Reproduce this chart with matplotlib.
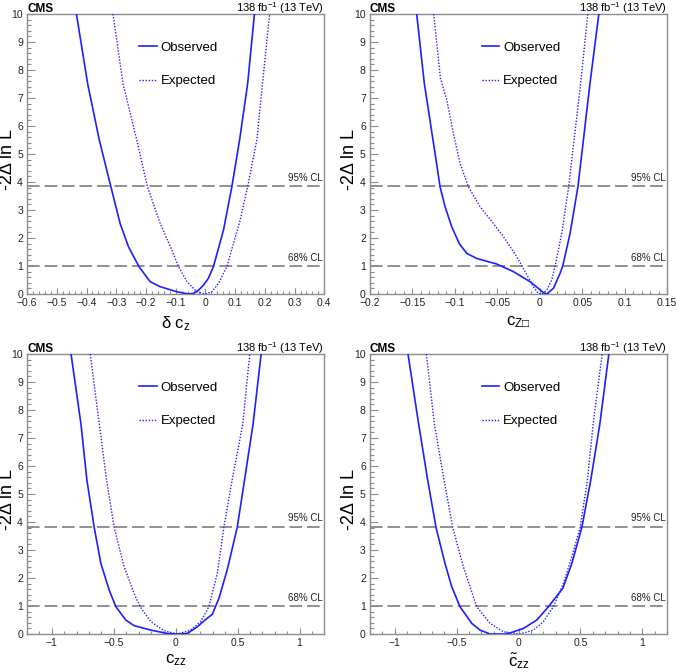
import matplotlib
matplotlib.use("Agg")
import matplotlib.pyplot as plt
from matplotlib.ticker import MultipleLocator, FuncFormatter

plt.rcParams["font.family"] = ["Liberation Sans", "DejaVu Sans"]
plt.rcParams["mathtext.fontset"] = "custom"
plt.rcParams["mathtext.rm"] = "Liberation Sans"
plt.rcParams["mathtext.it"] = "Liberation Sans:italic"
plt.rcParams["mathtext.bf"] = "Liberation Sans:bold"
plt.rcParams["mathtext.fallback"] = "stixsans"

# ----------------------------------------
#  Data
# ----------------------------------------
# delta c_z
dcz_obs_x = [-0.434, -0.396, -0.357, -0.318, -0.287, -0.259, -0.223, -0.186, -0.152, -0.096,
             -0.057, -0.040, -0.023, -0.006, 0.010, 0.027, 0.061, 0.089, 0.115, 0.142, 0.165]
dcz_obs_y = [10.0, 7.5, 5.5, 3.83, 2.52, 1.69, 0.97, 0.44, 0.26, 0.08,
             0.0, 0.02, 0.14, 0.32, 0.56, 0.98, 2.29, 3.83, 5.5, 7.5, 10.0]
dcz_exp_x = [-0.311, -0.277, -0.231, -0.195, -0.152, -0.113, -0.090, -0.062, -0.029, 0.0,
             0.022, 0.044, 0.072, 0.117, 0.142, 0.173, 0.192, 0.216]
dcz_exp_y = [10.0, 7.5, 5.5, 3.83, 2.52, 1.57, 0.97, 0.44, 0.08, 0.0,
             0.08, 0.38, 0.97, 2.64, 3.83, 5.5, 7.5, 10.0]

# c_Z-box
czb_obs_x = [-0.145, -0.136, -0.133, -0.127, -0.121, -0.1175, -0.1116, -0.1037, -0.0947, -0.086,
             -0.0743, -0.0507, -0.0311, -0.0115, -0.0017, 0.0043, 0.0082, 0.016, 0.0239, 0.027,
             0.0357, 0.045, 0.059, 0.0695]
czb_obs_y = [10.0, 7.52, 6.93, 5.74, 4.55, 3.83, 3.12, 2.40, 1.79, 1.45,
             1.27, 1.07, 0.80, 0.44, 0.20, 0.05, 0.0, 0.20, 0.74, 1.0,
             2.17, 3.85, 7.5, 10.0]
czb_exp_x = [-0.125, -0.117, -0.1096, -0.1018, -0.094, -0.0842, -0.0704, -0.0547, -0.0429, -0.0271,
             -0.0173, -0.0076, -0.0017, 0.0023, 0.0082, 0.014, 0.018, 0.0259, 0.034, 0.048, 0.0565]
czb_exp_y = [10.0, 7.7, 6.93, 5.74, 4.67, 3.83, 3.12, 2.52, 2.05, 1.33,
             0.80, 0.26, 0.02, 0.0, 0.14, 0.5, 1.0, 2.17, 3.84, 7.5, 10.0]

# c_zz
czz_obs_x = [-0.845, -0.765, -0.717, -0.658, -0.604, -0.537, -0.483, -0.403, -0.336, -0.201,
             -0.067, 0.014, 0.094, 0.175, 0.242, 0.295, 0.349, 0.416, 0.497, 0.556, 0.625, 0.690]
czz_obs_y = [10.0, 7.5, 5.5, 3.81, 2.52, 1.57, 0.975, 0.5, 0.30, 0.14,
             0.02, 0.0, 0.02, 0.26, 0.52, 0.70, 1.27, 2.29, 3.81, 5.5, 7.5, 10.0]
czz_exp_x = [-0.690, -0.617, -0.558, -0.497, -0.416, -0.336, -0.287, -0.201, -0.094, 0.014,
             0.121, 0.201, 0.268, 0.336, 0.389, 0.456, 0.542, 0.598]
czz_exp_y = [10.0, 7.5, 5.5, 3.81, 2.40, 1.45, 0.975, 0.44, 0.12, 0.0,
             0.14, 0.44, 0.975, 2.17, 3.81, 5.5, 7.5, 10.0]

# c~_zz
ctzz_obs_x = [-0.893, -0.807, -0.734, -0.667, -0.594, -0.540, -0.473, -0.378, -0.311, -0.230,
              -0.163, -0.095, -0.042, 0.039, 0.147, 0.241, 0.357, 0.430, 0.511, 0.583, 0.656, 0.729]
ctzz_obs_y = [10.0, 7.5, 5.5, 3.81, 2.52, 1.69, 0.975, 0.38, 0.14, 0.0,
              0.0, 0.0, 0.08, 0.20, 0.5, 0.975, 1.63, 2.52, 3.81, 5.5, 7.5, 10.0]
ctzz_exp_x = [-0.745, -0.680, -0.602, -0.532, -0.446, -0.338, -0.230, -0.123, 0.012, 0.120,
              0.200, 0.281, 0.362, 0.430, 0.497, 0.556, 0.602, 0.675]
ctzz_exp_y = [10.0, 7.5, 5.5, 3.81, 2.40, 0.975, 0.38, 0.08, 0.0, 0.14,
              0.44, 0.975, 1.81, 2.76, 3.81, 5.5, 7.5, 10.0]

CL_LEVELS = [1.0, 3.84]
CL_LABELS = ["68% CL", "95% CL"]

PANELS = [
    # (axes rect, xlim, major, minor, xlabel, obs, exp, ylabel x, xlabel y)
    ([0.040, 0.5625, 0.439, 0.4167], (-0.6, 0.4), 0.1, 0.02, "\u03b4 c$_{\\mathrm{z}}$",
     (dcz_obs_x, dcz_obs_y), (dcz_exp_x, dcz_exp_y), -0.036, -0.072),
    ([0.5465, 0.5625, 0.439, 0.4167], (-0.2, 0.15), 0.05, 0.01, "c$_{\\mathrm{Z}\u25a1}$",
     (czb_obs_x, czb_obs_y), (czb_exp_x, czb_exp_y), -0.040, -0.072),
    ([0.040, 0.0565, 0.439, 0.4167], (-1.2, 1.2), 0.5, 0.1, "c$_{\\mathrm{zz}}$",
     (czz_obs_x, czz_obs_y), (czz_exp_x, czz_exp_y), -0.036, -0.066),
    ([0.5465, 0.0565, 0.439, 0.4167], (-1.2, 1.2), 0.5, 0.1, r"$\tilde{\mathrm{c}}_{\mathrm{zz}}$",
     (ctzz_obs_x, ctzz_obs_y), (ctzz_exp_x, ctzz_exp_y), -0.040, -0.062),
]

LINE_BLUE = "#1f1fff"
FRAME_GREY = "#8c8c8c"


def root_fmt(v, pos):
    s = "%g" % round(v, 6)
    if s == "-0":
        s = "0"
    return s.replace("-", "\u2212")


def draw_panel(fig, rect, xlim, major, minor, xlabel, obs, exp, ylab_x, xlab_y):
    ax = fig.add_axes(rect)
    ax.set_xlim(*xlim)
    ax.set_ylim(0, 10)

    # confidence level lines
    for level, label in zip(CL_LEVELS, CL_LABELS):
        ax.axhline(level, color="#909090", lw=1.4, dashes=(6.5, 2.5), zorder=1)
        ax.text(0.995, level + 0.12, label, transform=ax.get_yaxis_transform(),
                ha="right", va="bottom", fontsize=7, color="#222222")

    ax.plot(obs[0], obs[1], color=LINE_BLUE, lw=1.2, label="Observed", zorder=3)
    ax.plot(exp[0], exp[1], color=LINE_BLUE, lw=1.0, linestyle=(0, (1, 1.2)),
            label="Expected", zorder=3)

    ax.legend(loc="upper left", bbox_to_anchor=(0.36, 0.92), frameon=False,
              fontsize=9.5, handlelength=1.3, handletextpad=0.3, labelspacing=1.6,
              borderaxespad=0)

    # ROOT-like axes
    ax.xaxis.set_major_locator(MultipleLocator(major))
    ax.xaxis.set_minor_locator(MultipleLocator(minor))
    ax.yaxis.set_major_locator(MultipleLocator(1))
    ax.yaxis.set_minor_locator(MultipleLocator(0.2))
    ax.xaxis.set_major_formatter(FuncFormatter(root_fmt))
    ax.yaxis.set_major_formatter(FuncFormatter(root_fmt))
    ax.tick_params(which="both", direction="in", color=FRAME_GREY, width=0.8,
                   labelsize=7.5, labelcolor="#222222", top=False, right=False)
    ax.tick_params(axis="y", which="major", length=6, pad=3)
    ax.tick_params(axis="y", which="minor", length=3)
    ax.tick_params(axis="x", which="major", length=4.5, pad=3)
    ax.tick_params(axis="x", which="minor", length=2.3)
    for sp in ax.spines.values():
        sp.set_color(FRAME_GREY)
        sp.set_linewidth(1.0)

    ax.set_ylabel("-2\u0394 ln L", fontsize=13)
    ax.yaxis.set_label_coords(ylab_x, 0.48)
    ax.set_xlabel(xlabel, fontsize=12)
    ax.xaxis.set_label_coords(0.5, xlab_y)

    ax.text(0.0, 1.008, "CMS", transform=ax.transAxes, ha="left", va="baseline",
            fontsize=8.5, fontweight="bold")
    ax.text(1.0, 1.008, r"138 fb$^{-1}$ (13 TeV)", transform=ax.transAxes,
            ha="right", va="baseline", fontsize=8)
    return ax


fig = plt.figure(figsize=(6.77, 6.72), dpi=100)
for rect, xlim, major, minor, xlabel, obs, exp, ylab_x, xlab_y in PANELS:
    draw_panel(fig, rect, xlim, major, minor, xlabel, obs, exp, ylab_x, xlab_y)

fig.savefig("out.png", dpi=100, facecolor="white")
